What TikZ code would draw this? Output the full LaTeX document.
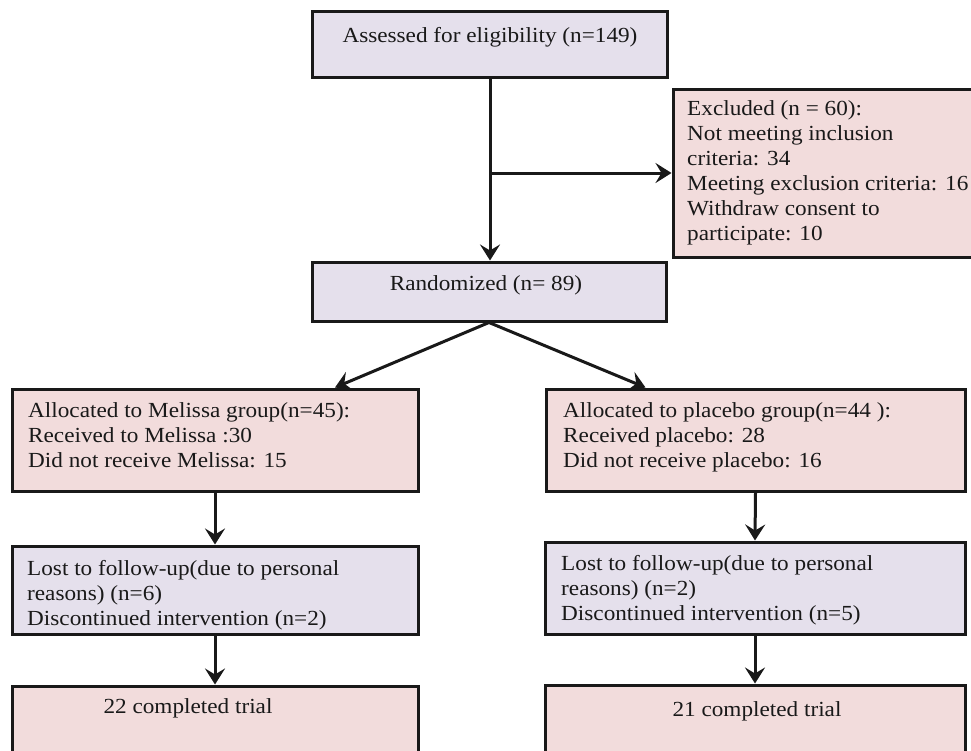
\documentclass[tikz,border=0pt]{standalone}
\usepackage{fontspec}
\setmainfont{Liberation Serif}[FakeStretch=1.08]
\usetikzlibrary{arrows.meta,calc}
\definecolor{boxpurple}{RGB}{229,224,236}
\definecolor{boxpink}{RGB}{242,220,220}
\definecolor{inkc}{RGB}{25,25,25}
\begin{document}
\begin{tikzpicture}[x=1pt,y=-1pt,
  basebox/.style={draw=inkc,line width=3pt,inner sep=0pt,rectangle},
  pbox/.style={basebox,fill=boxpurple},
  kbox/.style={basebox,fill=boxpink},
  txt/.style={inner sep=0pt,align=left,text=inkc,font=\fontsize{21.5pt}{25pt}\selectfont,anchor=base west},
  ctxt/.style={txt,anchor=base},
  arr/.style={draw=inkc,line width=3pt,-{Stealth[length=16pt,width=20pt,inset=6pt]}},
  ln/.style={draw=inkc,line width=3pt}]
\useasboundingbox (0,0) rectangle (971,750);
\clip (0,0) rectangle (971,750);
\fill[white] (0,0) rectangle (971,750);
% boxes
\node[pbox,minimum width=355pt,minimum height=66pt] (assess) at (490,44) {};
\node[kbox,minimum width=320pt,minimum height=168pt] (excl) at (833,173) {};
\node[pbox,minimum width=354pt,minimum height=59pt] (rand) at (489,291.5) {};
\node[kbox,minimum width=406pt,minimum height=102pt] (allocL) at (215,440) {};
\node[kbox,minimum width=419pt,minimum height=102pt] (allocR) at (755.5,440) {};
\node[pbox,minimum width=406pt,minimum height=88pt] (lostL) at (215,590) {};
\node[pbox,minimum width=420pt,minimum height=92pt] (lostR) at (755,588) {};
\node[kbox,minimum width=406pt,minimum height=110pt] (compL) at (215,741) {};
\node[kbox,minimum width=420pt,minimum height=110pt] (compR) at (755,740) {};
% texts (anchor on last line's baseline)
\node[ctxt] (tAssess) at (490,42) {Assessed for eligibility (n=149)};
\node[txt] (tExcl) at (687,240) {Excluded (n = 60):\\Not meeting inclusion\\criteria: 34\\Meeting exclusion criteria: 16\\Withdraw consent to\\participate: 10};
\node[ctxt] (tRand) at (486,290) {Randomized (n= 89)};
\node[txt] (tAllocL) at (28,467) {Allocated to Melissa group(n=45):\\Received to Melissa :30\\Did not receive Melissa: 15};
\node[txt] (tAllocR) at (563,467) {Allocated to placebo group(n=44 ):\\Received placebo: 28\\Did not receive placebo: 16};
\node[txt] (tLostL) at (27,625) {Lost to follow-up(due to personal\\reasons) (n=6)\\Discontinued intervention (n=2)};
\node[txt] (tLostR) at (561,620) {Lost to follow-up(due to personal\\reasons) (n=2)\\Discontinued intervention (n=5)};
\node[ctxt] (tCompL) at (188,713) {22 completed trial};
\node[ctxt] (tCompR) at (757,716) {21 completed trial};
% connectors
\draw[arr] (assess.south) -- (assess.south |- rand.north);
\draw[arr] (assess.south |- excl.west) -- (excl.west);
\draw[arr] (rand.south) -- ([xshift=120pt]allocL.north);
\draw[arr] (rand.south) -- ([xshift=-110pt]allocR.north);
\draw[arr] (allocL.south) -- (lostL.north);
\draw[arr] (allocR.south) -- (lostR.north);
\draw[arr] (lostL.south) -- (compL.north);
\draw[arr] (lostR.south) -- (compR.north);
\end{tikzpicture}
\end{document}
